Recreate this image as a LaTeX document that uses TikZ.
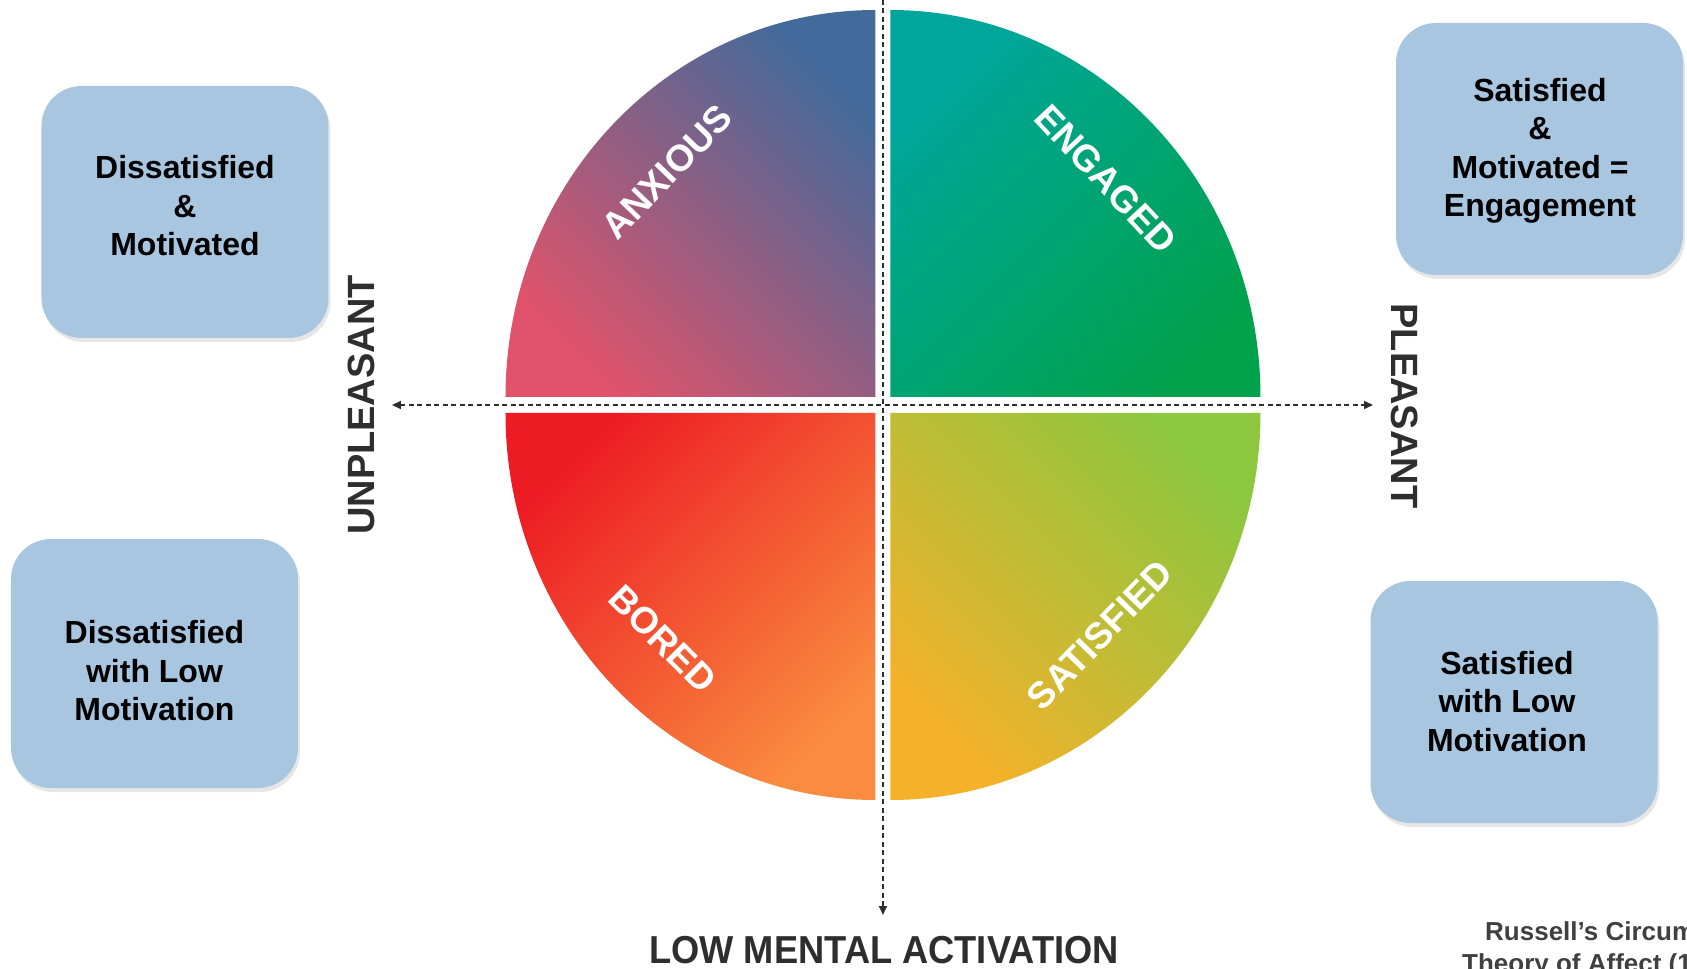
\documentclass[tikz,border=0pt]{standalone}
\usepackage{fontspec}
\setmainfont{Liberation Sans}
\newfontfamily\narrowfont[FakeStretch=0.93]{Liberation Sans}
\usetikzlibrary{arrows.meta,shadows}

\definecolor{cardblue}{HTML}{A9C6E1}
\definecolor{axisgray}{HTML}{2E2E2E}
\definecolor{anxblue}{HTML}{426A9B}
\definecolor{anxpink}{HTML}{E0536A}
\definecolor{engteal}{HTML}{00A69C}
\definecolor{enggreen}{HTML}{00A24C}
\definecolor{borred}{HTML}{ED1C24}
\definecolor{bororange}{HTML}{F98C3F}
\definecolor{satgreen}{HTML}{8DC63F}
\definecolor{satyellow}{HTML}{F6B12A}
\definecolor{creditgray}{HTML}{404040}

\begin{document}
\begin{tikzpicture}[x=1pt, y=1pt,
    axis/.style={draw=axisgray, line width=2pt, dash pattern=on 5pt off 3.5pt},
    card/.style={fill=cardblue, rounded corners=40pt, inner sep=0pt, minimum width=287pt,
      drop shadow={shadow xshift=2pt, shadow yshift=-4pt, opacity=0.2}},
    cardtext/.style={align=center, inner sep=0pt, font=\fontsize{32}{38.5}\selectfont\bfseries},
    mood/.style={text=white, inner sep=0pt, font=\fontsize{37}{42}\selectfont\bfseries},
    pole/.style={text=axisgray, inner sep=0pt, font=\fontsize{38}{42}\selectfont\bfseries},
    credit/.style={text=creditgray, inner sep=0pt, font=\fontsize{26}{31}\selectfont\bfseries}]
  \useasboundingbox (-883, -564) rectangle (804, 405);

  % the four quarters
  \shade[top color=anxblue, bottom color=anxpink, shading angle=-45]
    (-7.5, 8) -- (-377.5, 8) arc[start angle=180, end angle=90, x radius=370, y radius=387] -- cycle;
  \shade[top color=engteal, bottom color=enggreen, shading angle=45]
    (7.5, 8) -- (377.5, 8) arc[start angle=0, end angle=90, x radius=370, y radius=387] -- cycle;
  \shade[top color=borred, bottom color=bororange, shading angle=45]
    (-7.5, -8) -- (-377.5, -8) arc[start angle=180, end angle=270, x radius=370, y radius=387] -- cycle;
  \shade[top color=satgreen, bottom color=satyellow, shading angle=-45]
    (7.5, -8) -- (377.5, -8) arc[start angle=0, end angle=-90, x radius=370, y radius=387] -- cycle;

  \node[mood, rotate=46] (anxious) at (-216, 233) {ANXIOUS};
  \node[mood, rotate=-47] (engaged) at (223, 226) {ENGAGED};
  \node[mood, rotate=-45] (bored) at (-220, -234) {BORED};
  \node[mood, rotate=46] (satisfied) at (217, -230) {SATISFIED};

  % axes
  \coordinate (west) at (-491, 0);
  \coordinate (east) at (490, 0);
  \coordinate (north) at (0, 405);
  \coordinate (south) at (0, -510);
  \draw[axis, {Triangle[length=9pt, width=8pt]}-{Triangle[length=9pt, width=8pt]}] (west) -- (east);
  \draw[axis, -{Triangle[length=9pt, width=8pt]}] (north) -- (south);

  \node[pole, rotate=90] (unpleasant) at (-522, 0) {UNPLEASANT};
  \node[pole, rotate=-90] (pleasant) at (522, -1) {PLEASANT};
  \node[text=axisgray, anchor=base, inner sep=0pt, font=\narrowfont\fontsize{39}{44}\selectfont\bfseries]
    (low) at (1, -558) {LOW MENTAL ACTIVATION};

  % boxes
  \node[card, minimum height=252pt] (c1) at (-698, 193) {};
  \node[cardtext] (t1) at (-698, 199) {Dissatisfied\\\&\\Motivated};
  \node[card, minimum height=252pt] (c2) at (656.5, 256) {};
  \node[cardtext] (t2) at (657, 254) {Satisfied\\\&\\Motivated =\\Engagement};
  \node[card, minimum height=249pt] (c3) at (-728.5, -258.5) {};
  \node[cardtext] (t3) at (-728.5, -266) {Dissatisfied\\with Low\\Motivation};
  \node[card, minimum height=242pt] (c4) at (631, -297) {};
  \node[cardtext] (t4) at (624, -296.5) {Satisfied\\with Low\\Motivation};

  \node[credit, anchor=base west] (credit1) at (602, -535) {Russell’s Circumplex};
  \node[credit, anchor=base west] (credit2) at (579, -567) {Theory of Affect (1980)};
\end{tikzpicture}
\end{document}
